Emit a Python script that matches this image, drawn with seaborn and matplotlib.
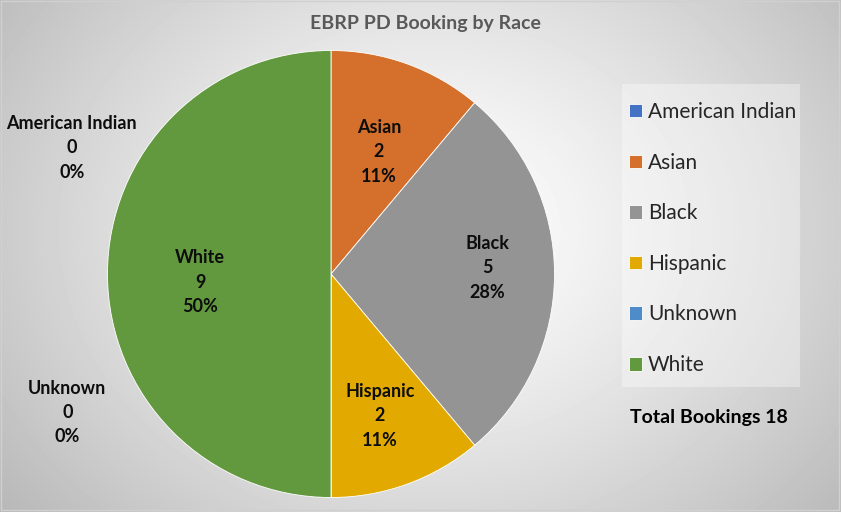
import numpy as np
import matplotlib
matplotlib.use("Agg")
import matplotlib.pyplot as plt
import seaborn as sns
from matplotlib.patches import Rectangle

# ---- data ----
categories = ["American Indian", "Asian", "Black", "Hispanic", "Unknown", "White"]
bookings = [0, 2, 5, 2, 0, 9]
colors = ["#4472C4", "#D5702C", "#949494", "#E2AA00", "#4D8CC8", "#62993E"]
title = "EBRP PD Booking by Race"
total_label = "Total Bookings 18"

sns.set_theme(style="white")
plt.rcParams["font.family"] = ["Lato", "DejaVu Sans"]

W, H = 841, 512
fig = plt.figure(figsize=(W / 100, H / 100), dpi=100)

# background radial gradient
bg = fig.add_axes([0, 0, 1, 1], zorder=0)
yy, xx = np.mgrid[0:H, 0:W]
d = np.sqrt(((xx - 430) / 520.0) ** 2 + ((yy - 230) / 420.0) ** 2)
g = np.clip(1.0 - 0.26 * d ** 1.3, 0.72, 1.0)
bg.imshow(g, cmap="gray", vmin=0, vmax=1, extent=(0, W, H, 0), aspect="auto")
bg.add_patch(Rectangle((1, 1), W - 3, H - 3, fill=False, edgecolor="#d0d0d0", lw=1))
# legend panel
bg.add_patch(Rectangle((622, 84), 178, 303, facecolor="#ffffff", alpha=0.35,
                       edgecolor="none"))
bg.set_xlim(0, W)
bg.set_ylim(H, 0)
bg.axis("off")

# pie axes mapped so that 1 unit = R px, centre at (cx, cy)
cx, cy, R = 331, 274, 223.5
ax = fig.add_axes([0, 0, 1, 1], zorder=1)
ax.patch.set_alpha(0)
wedges, _ = ax.pie(bookings, colors=colors, startangle=90, counterclock=False,
                   radius=1.0, wedgeprops=dict(linewidth=0.6, edgecolor="#ffffff"))
ax.set_aspect("auto")
ax.set_xlim(-cx / R, (W - cx) / R)
ax.set_ylim(-(H - cy) / R, cy / R)
ax.axis("off")

total = sum(bookings)
# label anchor positions (in pie-radius units), as placed in the original
label_pos = [(-1.16, 0.565), (0.215, 0.546), (0.698, 0.027),
             (0.219, -0.635), (-1.18, -0.62), (-0.586, -0.036)]
for (x, y), name, v in zip(label_pos, categories, bookings):
    txt = f"{name}\n{v}\n{round(100 * v / total)}%"
    ax.text(x, y, txt, ha="center", va="center", fontsize=13, fontweight="bold",
            color="#0d0d0d", linespacing=1.52)

fig.text(425 / W, 1 - 23 / H, title, ha="center", va="center", fontsize=14,
         fontweight="bold", color="#595959")

leg = fig.legend(wedges, categories, loc="upper left",
                 bbox_to_anchor=(629 / W, 1 - 102 / H), frameon=False,
                 fontsize=15, handlelength=0.62, handleheight=0.62,
                 handletextpad=0.3, labelspacing=1.47, borderpad=0,
                 borderaxespad=0)
leg.set_zorder(3)

fig.text(630 / W, 1 - 418 / H, total_label, ha="left", va="center", fontsize=14,
         fontweight="bold", color="#000000")

fig.savefig("out.png", dpi=100)
